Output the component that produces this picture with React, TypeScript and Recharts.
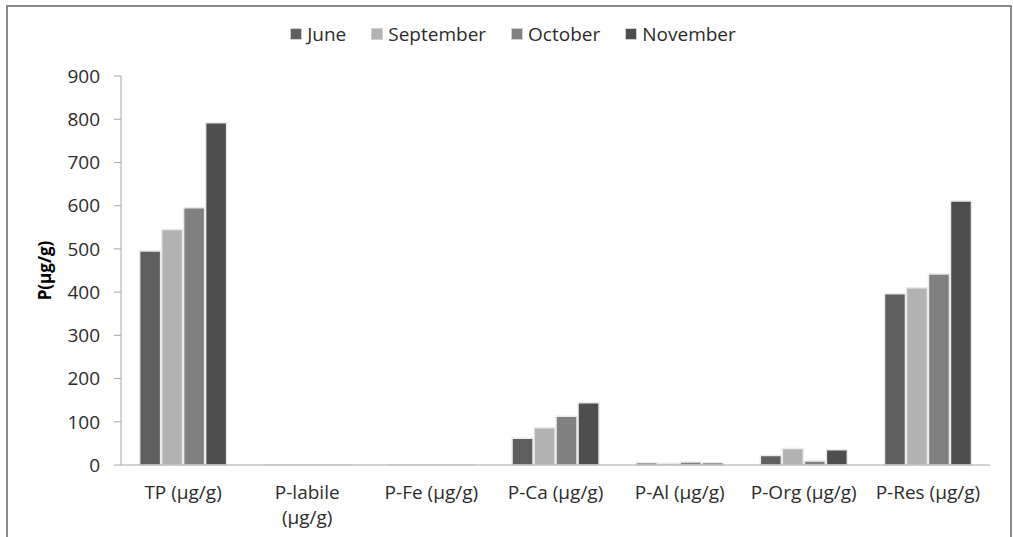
import { BarChart, Bar, XAxis, YAxis, Legend } from "recharts";

const categories = [
  "TP (µg/g)",
  "P-labile\n(µg/g)",
  "P-Fe (µg/g)",
  "P-Ca (µg/g)",
  "P-Al  (µg/g)",
  "P-Org (µg/g)",
  "P-Res (µg/g)",
];
const june = [495, 0.8, 0.8, 62, 5, 22, 396];
const september = [545, 0.8, 0.8, 86, 4, 38, 410];
const october = [595, 0.8, 0.8, 113, 7, 9, 442];
const november = [792, 0.8, 0.8, 144, 5, 35, 611];
const yTicks = [0, 100, 200, 300, 400, 500, 600, 700, 800, 900];
const edgeTicks = [0, 1, 2, 3, 4, 5, 6, 7];

const series = [
  { key: "june", name: "June", color: "#5f5f5f", values: june },
  { key: "september", name: "September", color: "#b2b2b2", values: september },
  { key: "october", name: "October", color: "#808080", values: october },
  { key: "november", name: "November", color: "#4e4e4e", values: november },
];

const data = categories.map((name, i) => {
  const row: Record<string, string | number> = { name };
  series.forEach((s) => (row[s.key] = s.values[i]));
  return row;
});

const FONT = "'Open Sans', sans-serif";
const AXIS = "#a6a6a6";

function CatTick({ x, y, payload }: any) {
  const lines = String(payload.value).split("\n");
  return (
    <g>
      {lines.map((l, i) => (
        <text key={i} x={x} y={y + 26 + i * 25} textAnchor="middle" fill="#2b2b2b" fontSize={19} fontFamily={FONT}>
          {l}
        </text>
      ))}
    </g>
  );
}

function LegendBox() {
  return (
    <div style={{ display: "flex", justifyContent: "center", gap: 25, fontFamily: FONT, fontSize: 19, color: "#2b2b2b", paddingLeft: 36 }}>
      {series.map((s) => (
        <div key={s.key} style={{ display: "flex", alignItems: "center" }}>
          <span style={{ width: 10, height: 10, background: s.color, border: "1px solid #d0d0d0", marginRight: 5 }} />
          <span>{s.name}</span>
        </div>
      ))}
    </div>
  );
}

export default function App() {
  return (
    <div style={{ position: "absolute", left: 0, top: 0, width: 1013, height: 537, overflow: "hidden", background: "#fff" }}>
      <div
        style={{
          position: "absolute",
          left: 6,
          top: 5,
          width: 1002,
          height: 600,
          border: "2px solid #8a8a8a",
        }}
      />
      <div style={{ position: "absolute", left: 0, top: 0 }}>
        <BarChart
          width={1013}
          height={537}
          data={data}
          margin={{ top: 76, right: 23, bottom: 12, left: 0 }}
          barCategoryGap="15%"
          barGap={1}
        >
          <XAxis
            xAxisId={0}
            type="number"
            domain={[0, 7]}
            ticks={edgeTicks}
            allowDataOverflow
            tick={false}
            axisLine={false}
            tickLine={{ stroke: AXIS }}
            tickSize={7}
            height={0}
          />
          <XAxis
            xAxisId={1}
            dataKey="name"
            interval={0}
            axisLine={{ stroke: AXIS }}
            tickLine={false}
            tick={<CatTick />}
            height={60}
          />
          <YAxis
            domain={[0, 900]}
            ticks={yTicks}
            width={121}
            axisLine={{ stroke: AXIS }}
            tickLine={{ stroke: AXIS }}
            tickSize={7}
            tickMargin={14}
            tick={{ fill: "#2b2b2b", fontSize: 19, fontFamily: FONT }}
            label={{
              value: "P(µg/g)",
              angle: -90,
              position: "insideLeft",
              offset: 45,
              style: { textAnchor: "middle", fontWeight: "bold", fontSize: 17, fontFamily: FONT, fill: "#000" },
            }}
          />
          <Legend verticalAlign="middle" align="center" wrapperStyle={{ top: 21 }} content={<LegendBox />} />
          {series.map((s) => (
            <Bar
              key={s.key}
              xAxisId={1}
              dataKey={s.key}
              name={s.name}
              fill={s.color}
              stroke="#ebebeb"
              strokeWidth={1.5}
              isAnimationActive={false}
            />
          ))}
        </BarChart>
      </div>
    </div>
  );
}
